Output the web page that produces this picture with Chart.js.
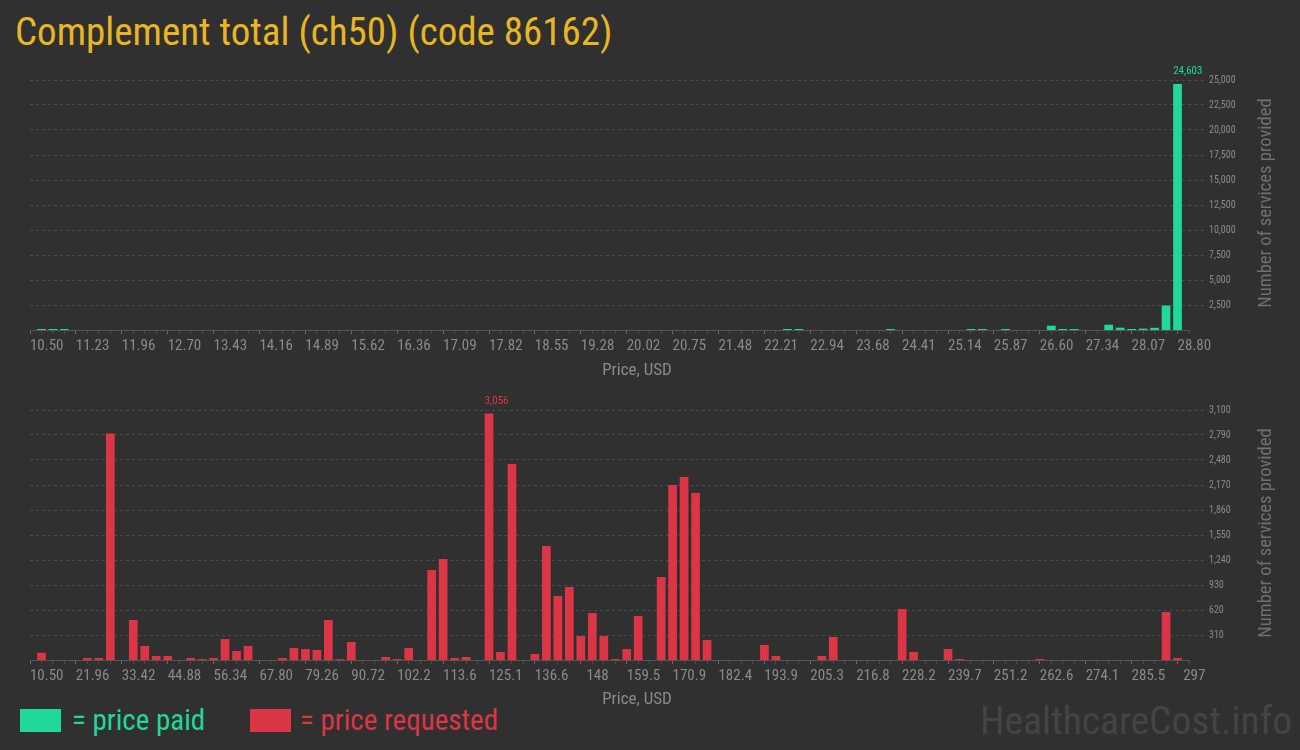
<!DOCTYPE html>
<html>
<head>
<meta charset="utf-8">
<title>Complement total (ch50) (code 86162)</title>
<script src="https://cdn.jsdelivr.net/npm/chart.js@4.4.1/dist/chart.umd.min.js"></script>
<style>
  html, body { margin: 0; padding: 0; background: #303030; }
  body {
    width: 1300px; height: 750px; position: relative; overflow: hidden;
    font-family: "Liberation Sans Narrow", "Roboto Condensed", "Arial Narrow", sans-serif;
  }
  .abs { position: absolute; white-space: nowrap; }
  .center { transform: translate(-50%, -50%); }
  #title { left: 15px; top: 9px; font-size: 39px; line-height: 46px; color: #e8b622; }
  .xtitle { left: 637px; font-size: 17px; color: #8a8a8a; }
  .ytitle { left: 1265px; font-size: 18.5px; color: #707070; transform: translate(-50%, -50%) rotate(-90deg); }
  .swatch { width: 41px; height: 23px; top: 709px; }
  .legend { top: 720px; font-size: 29px; transform: translateY(-50%); }
  #brand { left: 980px; top: 720px; font-size: 39.5px; color: #444; transform: translateY(-50%); }
  canvas { position: absolute; left: 0; }
  #paidChart { top: 60px; }
  #requestedChart { top: 390px; }
</style>
</head>
<body>
<div id="title" class="abs">Complement total (ch50) (code 86162)</div>

<canvas id="paidChart" width="1300" height="300" style="width:1300px;height:300px"></canvas>
<canvas id="requestedChart" width="1300" height="300" style="width:1300px;height:300px"></canvas>

<div class="abs xtitle center" style="top:369px">Price, USD</div>
<div class="abs xtitle center" style="top:698px">Price, USD</div>
<div class="abs ytitle" style="top:203px">Number of services provided</div>
<div class="abs ytitle" style="top:533px">Number of services provided</div>

<div class="abs swatch" style="left:20px;background:#20d999"></div>
<div class="abs legend" style="left:72px;color:#20d999">= price paid</div>
<div class="abs swatch" style="left:250px;background:#dc3545"></div>
<div class="abs legend" style="left:300px;color:#dc3545">= price requested</div>
<div id="brand" class="abs">HealthcareCost.info</div>

<script>
const NARROW = '"Liberation Sans Narrow", "Roboto Condensed", "Arial Narrow", sans-serif';
const GREEN = '#20d999';
const RED = '#dc3545';

// 100 price bins per chart; bin edges are labelled every 4 bins
const paidTickLabels = ['10.50', '11.23', '11.96', '12.70', '13.43', '14.16', '14.89', '15.62', '16.36',
  '17.09', '17.82', '18.55', '19.28', '20.02', '20.75', '21.48', '22.21', '22.94', '23.68', '24.41',
  '25.14', '25.87', '26.60', '27.34', '28.07', '28.80'];

const requestedTickLabels = ['10.50', '21.96', '33.42', '44.88', '56.34', '67.80', '79.26', '90.72', '102.2',
  '113.6', '125.1', '136.6', '148', '159.5', '170.9', '182.4', '193.9', '205.3', '216.8', '228.2',
  '239.7', '251.2', '262.6', '274.1', '285.5', '297'];

const paidCounts = [
  100, 100, 100, 0, 0, 0, 0, 0, 0, 0,
  0, 0, 0, 0, 0, 0, 0, 0, 0, 0,
  0, 0, 0, 0, 0, 0, 0, 0, 0, 0,
  0, 0, 0, 0, 0, 0, 0, 0, 0, 0,
  0, 0, 0, 0, 0, 0, 0, 0, 0, 0,
  0, 0, 0, 0, 0, 0, 0, 0, 0, 0,
  0, 0, 0, 0, 0, 100, 100, 0, 0, 0,
  0, 0, 0, 0, 100, 0, 0, 0, 0, 0,
  0, 100, 100, 0, 100, 0, 0, 0, 430, 100,
  100, 0, 0, 530, 230, 100, 140, 220, 2450, 24603,
];

const requestedCounts = [
  90, 0, 0, 0, 25, 25, 2810, 0, 496, 174,
  50, 50, 0, 25, 12, 25, 260, 112, 174, 0,
  0, 25, 150, 136, 124, 496, 10, 223, 0, 0,
  37, 12, 150, 0, 1116, 1252, 25, 37, 0, 3056,
  100, 2430, 0, 75, 1413, 794, 905, 298, 583, 298,
  12, 136, 545, 0, 1029, 2170, 2269, 2071, 248, 0,
  0, 0, 0, 186, 50, 0, 0, 0, 50, 285,
  0, 0, 0, 0, 0, 632, 100, 0, 0, 136,
  12, 0, 0, 0, 0, 0, 0, 12, 0, 0,
  0, 0, 0, 0, 0, 0, 0, 0, 595, 25,
];

const paidYTicks = [2500, 5000, 7500, 10000, 12500, 15000, 17500, 20000, 22500, 25000];
const requestedYTicks = [310, 620, 930, 1240, 1550, 1860, 2170, 2480, 2790, 3100];

// writes the tallest bar's value just above its left edge
const peakLabel = {
  id: 'peakLabel',
  afterDatasetsDraw(chart) {
    const ds = chart.data.datasets[0];
    const values = ds.data.map((d) => d.y);
    const i = values.indexOf(Math.max(...values));
    const bar = chart.getDatasetMeta(0).data[i];
    if (!bar) return;
    const ctx = chart.ctx;
    ctx.save();
    ctx.font = `11px ${NARROW}`;
    ctx.fillStyle = ds.backgroundColor;
    ctx.textAlign = 'left';
    ctx.textBaseline = 'bottom';
    ctx.fillText(values[i].toLocaleString('en-US'), bar.x - bar.width / 2, bar.y - 7);
    ctx.restore();
  },
};

function renderHistogram(canvasId, counts, xLabels, yTicks, color) {
  const canvas = document.getElementById(canvasId);
  if (!canvas) return;

  const bins = counts.length;
  const ctx = canvas.getContext('2d');
  return new Chart(ctx, {
    type: 'bar',
    data: {
      datasets: [
        {
          data: counts.map((y, x) => ({ x, y })),
          backgroundColor: color,
          borderWidth: 0,
          barPercentage: 0.76,
          categoryPercentage: 1,
        },
      ],
    },
    options: {
      responsive: false,
      animation: false,
      layout: { padding: { top: 20, left: 30, right: 0, bottom: 0 } },
      plugins: {
        legend: { display: false },
        tooltip: { enabled: false },
      },
      scales: {
        x: {
          type: 'linear',
          min: -0.5,
          max: bins - 0.5,
          afterBuildTicks: (scale) => {
            const ticks = [];
            for (let k = 0; k <= bins; k++) ticks.push({ value: k - 0.5 });
            scale.ticks = ticks;
          },
          afterFit: (scale) => {
            // keep the plot edges where the layout padding puts them
            scale.height = 30;
            scale.paddingLeft = 0;
            scale.paddingRight = 0;
          },
          border: { display: true, color: '#555555', width: 1 },
          grid: {
            drawOnChartArea: false,
            drawTicks: true,
            tickLength: 4,
            tickColor: (c) => (c.index % 4 === 0 ? '#6a6a6a' : '#4c4c4c'),
          },
          ticks: {
            autoSkip: false,
            maxRotation: 0,
            padding: 3,
            labelOffset: 11,
            color: '#8a8a8a',
            font: { family: NARROW, size: 15 },
            callback: (value, index) => (index % 4 === 0 ? xLabels[index / 4] : ''),
          },
        },
        y: {
          position: 'right',
          min: 0,
          max: yTicks[yTicks.length - 1],
          afterBuildTicks: (scale) => {
            scale.ticks = yTicks.map((value) => ({ value }));
          },
          afterFit: (scale) => { scale.width = 111; },
          border: { display: false, dash: [3, 3] },
          grid: {
            color: '#4a4a4a',
            tickLength: 17,
            tickColor: '#4a4a4a',
            tickBorderDash: [3, 3],
          },
          ticks: {
            padding: 3,
            color: '#8a8a8a',
            font: { family: NARROW, size: 10 },
            callback: (value) => Number(value).toLocaleString('en-US'),
          },
        },
      },
    },
    plugins: [peakLabel],
  });
}

renderHistogram('paidChart', paidCounts, paidTickLabels, paidYTicks, GREEN);
renderHistogram('requestedChart', requestedCounts, requestedTickLabels, requestedYTicks, RED);
</script>
</body>
</html>
